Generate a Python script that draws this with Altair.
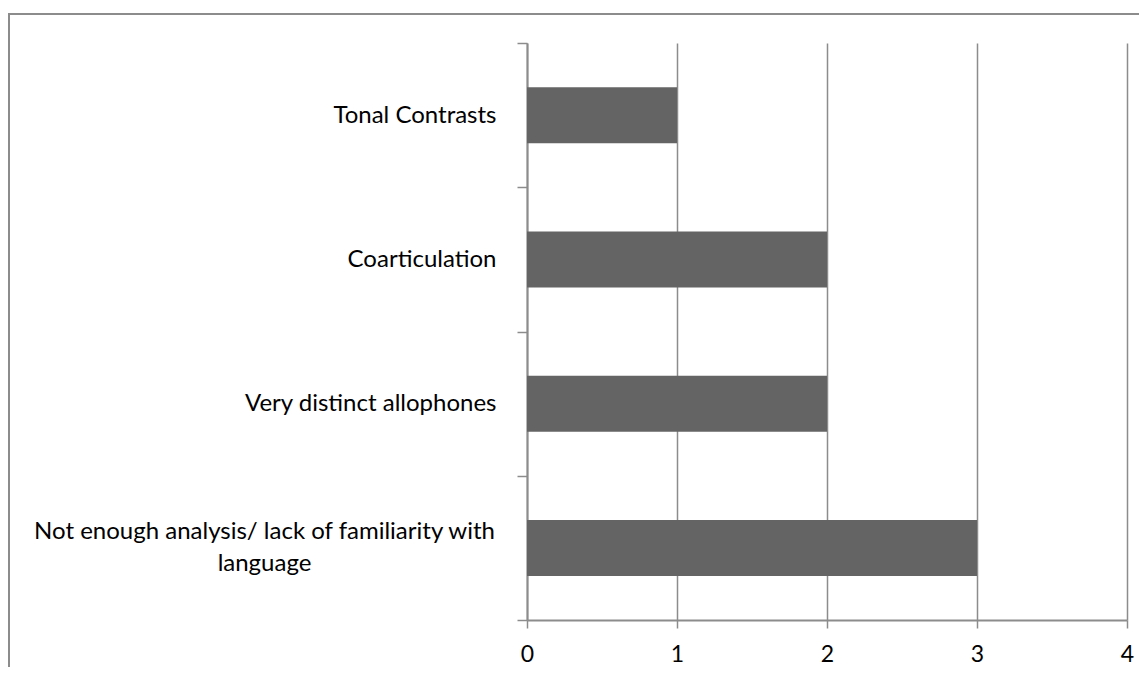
import altair as alt
import pandas as pd

categories = [
    "Tonal Contrasts",
    "Coarticulation",
    "Very distinct allophones",
    "Not enough analysis/ lack of familiarity with language",
]
values = [1, 2, 2, 3]
x_ticks = [0, 1, 2, 3, 4]

df = pd.DataFrame({"category": categories, "value": values})

LONG = categories[3]
is_long = f"datum.value == '{LONG}'"
label_expr = (
    f"{is_long} ? "
    "['Not enough analysis/ lack of familiarity with', 'language'] : datum.value"
)

FONT = "Lato"
GRAY = "#8c8c8c"

bars = alt.Chart(df).mark_bar(color="#646464", size=56).encode(
    x=alt.X(
        "value:Q",
        scale=alt.Scale(domain=[0, 4], nice=False),
        axis=alt.Axis(
            values=x_ticks,
            title=None,
            grid=True,
            gridColor=GRAY,
            gridWidth=1.5,
            domainColor=GRAY,
            domainWidth=2,
            tickColor=GRAY,
            tickWidth=1.5,
            tickSize=8,
            labelFont=FONT,
            labelFontSize=23,
            labelColor="#000000",
            labelPadding=15,
            labelFlush=False,
        ),
    ),
    y=alt.Y(
        "category:N",
        sort=categories,
        scale=alt.Scale(paddingInner=0, paddingOuter=0),
        axis=alt.Axis(
            title=None,
            tickBand="extent",
            domainColor=GRAY,
            domainWidth=2,
            tickColor=GRAY,
            tickWidth=1.5,
            tickSize=10,
            labelExpr=label_expr,
            labelFont=FONT,
            labelFontSize=24,
            labelColor="#000000",
            labelLineHeight=32,
            labelLimit=0,
            labelAlign={
                "condition": {"test": is_long, "value": "center"},
                "value": "right",
            },
            labelPadding={
                "condition": {"test": is_long, "value": 253},
                "value": 21,
            },
            labelOffset={
                "condition": {"test": is_long, "value": -16},
                "value": 0,
            },
        ),
    ),
)

frame = alt.Chart(alt.Data(values=[{"f": 1}])).mark_rect(
    fill=None, stroke=GRAY, strokeWidth=2, clip=False
).encode(
    x=alt.value(-518),
    x2=alt.value(800),
    y=alt.value(-29),
    y2=alt.value(800),
)

chart = alt.layer(frame, bars).properties(
    width=600,
    height=577,
    autosize=alt.AutoSizeParams(type="none"),
    padding={"left": 519, "top": 35, "right": 12, "bottom": 47},
).configure_view(stroke=None)

chart.save("out.html", embed_options={"renderer": "svg", "actions": False})
